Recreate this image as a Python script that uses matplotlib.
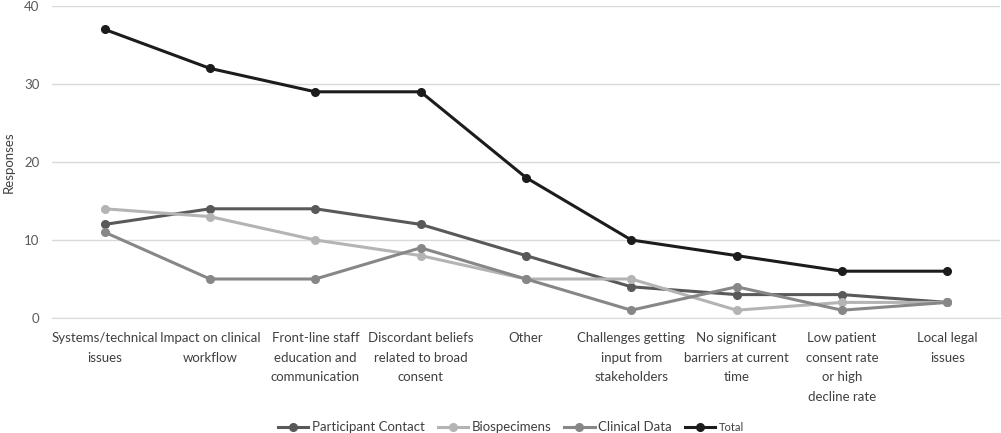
import matplotlib
matplotlib.use('Agg')
import matplotlib.pyplot as plt
import numpy as np

plt.rcParams['font.family'] = ['Lato', 'DejaVu Sans']

categories = ['Systems/technical\nissues', 'Impact on clinical\nworkflow',
              'Front-line staff\neducation and\ncommunication',
              'Discordant beliefs\nrelated to broad\nconsent', 'Other',
              'Challenges getting\ninput from\nstakeholders',
              'No significant\nbarriers at current\ntime',
              'Low patient\nconsent rate\nor high\ndecline rate',
              'Local legal\nissues']
participant = [12, 14, 14, 12, 8, 4, 3, 3, 2]
biospecimens = [14, 13, 10, 8, 5, 5, 1, 2, 2]
clinical = [11, 5, 5, 9, 5, 1, 4, 1, 2]
total = [37, 32, 29, 29, 18, 10, 8, 6, 6]

series = [('Participant Contact', participant, '#595959'),
          ('Biospecimens', biospecimens, '#b4b4b4'),
          ('Clinical Data', clinical, '#878787'),
          ('Total', total, '#1c1c1c')]

fig = plt.figure(figsize=(10.01, 4.33), dpi=100)
ax = fig.add_axes([52/1001, 115/433, 948/1001, 312/433])

x = np.arange(len(categories))
for name, vals, col in series:
    ax.plot(x, vals, color=col, lw=2.2, marker='o', markersize=5.5, label=name, zorder=3)

ax.set_xlim(-0.5, len(categories) - 0.5)
ax.set_ylim(0, 40)
ax.set_yticks([0, 10, 20, 30, 40])
ax.grid(axis='y', color='#d9d9d9', lw=1)
ax.set_axisbelow(True)
for s in ['top', 'right', 'left']:
    ax.spines[s].set_visible(False)
ax.spines['bottom'].set_color('#d9d9d9')
ax.tick_params(axis='both', length=0, labelsize=9.5, colors='#404040')
ax.tick_params(axis='y', colors='#595959', pad=9)
ax.set_xticks(x)
ax.set_xticklabels(categories, linespacing=1.78, va='top')
ax.tick_params(axis='x', pad=10)
ax.set_ylabel('Responses', fontsize=9.5, color='#404040', labelpad=7)

leg = ax.legend(loc='center', bbox_to_anchor=(0.484, -0.35), ncol=4,
                frameon=False, fontsize=9.5, handlelength=2.3, columnspacing=1.0,
                handletextpad=0.25)
for t in leg.get_texts():
    t.set_color('#404040')
leg.get_texts()[3].set_fontsize(8)

fig.savefig('out.png', dpi=100)
